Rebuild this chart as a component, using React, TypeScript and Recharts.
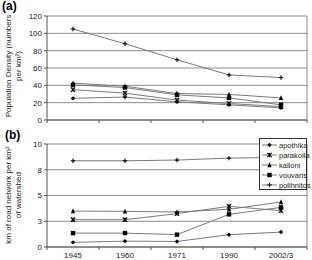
import React from "react";
import {
  LineChart,
  Line,
  XAxis,
  YAxis,
  CartesianGrid,
  ReferenceLine,
  Legend,
} from "recharts";

const years = ["1945", "1960", "1971", "1990", "2002/3"];
const seriesNames = ["apothika", "parakoila", "kalloni", "vouvaris", "polihnitos"];

// (a) population density
const popApothika = [25, 26.5, 21, 17.5, 14];
const popParakoila = [35, 31, 23, 19, 15.5];
const popKalloni = [42.5, 39, 30.5, 29.5, 25.5];
const popVouvaris = [40.5, 37.5, 29, 25.5, 17.5];
const popPolihnitos = [105, 88, 69.5, 52, 49];

// (b) road network density
const roadApothika = [0.45, 0.57, 0.54, 1.19, 1.45];
const roadParakoila = [2.65, 2.65, 3.24, 3.95, 3.53];
const roadKalloni = [3.49, 3.46, 3.4, 3.66, 4.37];
const roadVouvaris = [1.35, 1.35, 1.2, 3.17, 3.85];
const roadPolihnitos = [8.37, 8.37, 8.44, 8.63, 8.7];

const popTicks = [0, 20, 40, 60, 80, 100, 120];
const roadTicks = [0, 2.5, 5, 7.5, 10];
const xTicks = [0, 1, 2, 3, 4, 5];

const build = (cols: number[][]) =>
  years.map((y, i) => {
    const row: any = { x: i + 0.5, year: y };
    seriesNames.forEach((n, k) => (row[n] = cols[k][i]));
    return row;
  });

const popData = build([popApothika, popParakoila, popKalloni, popVouvaris, popPolihnitos]);
const roadData = build([roadApothika, roadParakoila, roadKalloni, roadVouvaris, roadPolihnitos]);

const FONT = "'Liberation Sans', Arial, sans-serif";
const W = 312;
const AXIS_W = 47;
const RIGHT = 5;
const BAND = (W - AXIS_W - RIGHT) / 5;
const LINE = "#7a7a7a";
const GRID = "#8c8c8c";
const shapes = ["diamond", "star", "triangle", "square", "plus"];

function Marker({ shape, cx, cy }: { shape: string; cx: number; cy: number }) {
  if (cx == null || cy == null) return null;
  const s = 2.2;
  if (shape === "diamond")
    return <path d={`M${cx},${cy - s} L${cx + s},${cy} L${cx},${cy + s} L${cx - s},${cy} Z`} fill="#000" />;
  if (shape === "triangle")
    return <path d={`M${cx},${cy - s - 0.5} L${cx + s},${cy + s} L${cx - s},${cy + s} Z`} fill="#000" />;
  if (shape === "square")
    return <rect x={cx - s} y={cy - s} width={s * 2} height={s * 2} fill="#000" />;
  if (shape === "star")
    return (
      <g stroke="#000" strokeWidth={1.1}>
        <line x1={cx - s} y1={cy - s} x2={cx + s} y2={cy + s} />
        <line x1={cx - s} y1={cy + s} x2={cx + s} y2={cy - s} />
        <line x1={cx} y1={cy - s} x2={cx} y2={cy + s} />
      </g>
    );
  return (
    <g stroke="#000" strokeWidth={1.1}>
      <line x1={cx - s} y1={cy} x2={cx + s} y2={cy} />
      <line x1={cx} y1={cy - s} x2={cx} y2={cy + s} />
    </g>
  );
}

const XTick = ({ x, y, payload, showLabel }: any) => {
  if (!showLabel || payload.value >= 5) return null;
  return (
    <text x={x + BAND / 2} y={y + 6} textAnchor="middle" fontSize={8} fill="#222" fontFamily={FONT}>
      {years[payload.value]}
    </text>
  );
};

const AxisTitle = (lines: string[], cy: number, xs: number[]) => (props: any) => (
  <g>
    {lines.map((t, i) => (
      <text
        key={i}
        x={xs[i]}
        y={cy}
        transform={`rotate(-90 ${xs[i]} ${cy})`}
        textAnchor="middle"
        dominantBaseline="central"
        fontSize={8}
        fill="#222"
        fontFamily={FONT}
      >
        {t}
      </text>
    ))}
  </g>
);

const LegendBox = () => (
  <div
    style={{
      width: 48,
      height: 52,
      border: "1px solid #333",
      background: "#fff",
      boxSizing: "border-box",
      fontFamily: FONT,
      fontSize: 7.5,
      color: "#222",
      paddingTop: 1,
    }}
  >
    {seriesNames.map((n, i) => (
      <div key={n} style={{ display: "flex", alignItems: "center", height: 10 }}>
        <svg width={18} height={10} style={{ flex: "none" }}>
          <line x1={2} y1={5} x2={17} y2={5} stroke={LINE} strokeWidth={1} />
          <Marker shape={shapes[i]} cx={9.5} cy={5} />
        </svg>
        <span style={{ marginLeft: 1 }}>{n}</span>
      </div>
    ))}
  </div>
);

function Panel({
  data,
  ticks,
  max,
  height,
  margin,
  xHeight,
  showLabels,
  title,
  fmt,
  legend,
}: any) {
  return (
    <LineChart width={W} height={height} data={data} margin={margin}>
      <CartesianGrid vertical={false} stroke={GRID} horizontalValues={ticks} />
      <ReferenceLine x={5} stroke={GRID} ifOverflow="extendDomain" />
      <XAxis
        dataKey="x"
        type="number"
        domain={[0, 5]}
        ticks={xTicks}
        interval={0}
        height={xHeight}
        stroke="#555"
        tickSize={3}
        tick={<XTick showLabel={showLabels} />}
      />
      <YAxis
        domain={[0, max]}
        ticks={ticks}
        interval={0}
        width={AXIS_W}
        stroke="#555"
        tickSize={3}
        tickMargin={2}
        tick={{ fontSize: 8, fill: "#222", fontFamily: FONT }}
        tickFormatter={fmt}
        label={{ content: title }}
      />
      {legend && (
        <Legend
          layout="vertical"
          align="center"
          verticalAlign="middle"
          content={<LegendBox />}
          wrapperStyle={{ left: 259, top: 8, width: 49, height: 53 }}
        />
      )}
      {seriesNames.map((n, i) => (
        <Line
          key={n}
          dataKey={n}
          type="linear"
          stroke={LINE}
          strokeWidth={1}
          isAnimationActive={false}
          dot={(p: any) => <Marker key={p.index} shape={shapes[i]} cx={p.cx} cy={p.cy} />}
          activeDot={false}
        />
      ))}
    </LineChart>
  );
}

export default function App() {
  return (
    <div style={{ position: "absolute", left: 0, top: 0, width: W, height: 260, background: "#fff", fontFamily: FONT }}>
      <div style={{ position: "absolute", left: 2, top: 0, fontSize: 12, lineHeight: "13px", fontWeight: "bold" }}>(a)</div>
      <div style={{ position: "absolute", left: 5, top: 129, fontSize: 12, lineHeight: "13px", fontWeight: "bold", zIndex: 2 }}>(b)</div>
      <div style={{ position: "absolute", left: 0, top: 0 }}>
        <Panel
          data={popData}
          ticks={popTicks}
          max={120}
          height={130}
          margin={{ top: 16, right: RIGHT, left: 0, bottom: 4 }}
          xHeight={6}
          showLabels={false}
          fmt={(v: number) => String(v)}
          title={AxisTitle(["Population Density (numbers", "per km²)"], 66, [8, 18])}
        />
      </div>
      <div style={{ position: "absolute", left: 0, top: 130 }}>
        <Panel
          data={roadData}
          ticks={roadTicks}
          max={10}
          height={130}
          margin={{ top: 14, right: RIGHT, left: 0, bottom: 1 }}
          xHeight={12}
          showLabels={true}
          fmt={(v: number) => String(Math.round(v))}
          title={AxisTitle(["km of road network per km²", "of watershed"], 65, [8, 18])}
          legend
        />
      </div>
    </div>
  );
}
